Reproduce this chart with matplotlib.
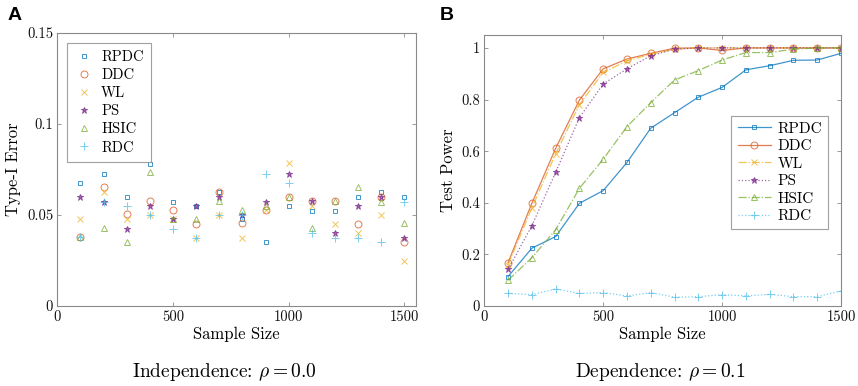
import matplotlib
matplotlib.use("Agg")
import matplotlib.pyplot as plt
from matplotlib.ticker import FuncFormatter

plt.rcParams['font.family'] = ['cmr10', 'DejaVu Serif']
plt.rcParams['mathtext.fontset'] = 'cm'
plt.rcParams['axes.formatter.use_mathtext'] = True

sample_sizes = [100, 200, 300, 400, 500, 600, 700, 800, 900, 1000, 1100, 1200, 1300, 1400, 1500]
methods = ["RPDC", "DDC", "WL", "PS", "HSIC", "RDC"]

# Panel A: Type-I error
rpdc_a = [0.0675, 0.0725, 0.060, 0.078, 0.0573, 0.0551, 0.0626, 0.0476, 0.0352, 0.0551, 0.0524, 0.0524, 0.060, 0.0626, 0.060]
ddc_a = [0.038, 0.0652, 0.0504, 0.0577, 0.0527, 0.045, 0.0626, 0.0454, 0.0527, 0.060, 0.0577, 0.0577, 0.045, 0.060, 0.0352]
wl_a = [0.0476, 0.0626, 0.0476, 0.050, 0.0476, 0.0374, 0.050, 0.0374, 0.0527, 0.0785, 0.0551, 0.045, 0.0403, 0.050, 0.0249]
ps_a = [0.060, 0.0573, 0.0425, 0.055, 0.0476, 0.0551, 0.060, 0.050, 0.0573, 0.0725, 0.0577, 0.0403, 0.0551, 0.060, 0.0374]
hsic_a = [0.038, 0.043, 0.0353, 0.0738, 0.0476, 0.0476, 0.0577, 0.0527, 0.0551, 0.060, 0.0427, 0.0577, 0.0656, 0.0573, 0.0454]
rdc_a = [0.038, 0.0573, 0.0551, 0.050, 0.0425, 0.0374, 0.050, 0.050, 0.0725, 0.0674, 0.040, 0.0374, 0.0374, 0.0352, 0.0573]

# Panel B: Test power
rpdc_b = [0.114, 0.224, 0.269, 0.398, 0.447, 0.556, 0.689, 0.749, 0.809, 0.847, 0.915, 0.931, 0.952, 0.953, 0.979]
ddc_b = [0.168, 0.398, 0.611, 0.798, 0.919, 0.957, 0.979, 0.999, 1.0, 0.99, 1.0, 1.0, 1.0, 1.0, 1.0]
wl_b = [0.160, 0.380, 0.590, 0.780, 0.905, 0.950, 0.975, 0.995, 1.0, 1.0, 1.0, 1.0, 1.0, 1.0, 1.0]
ps_b = [0.142, 0.311, 0.518, 0.730, 0.860, 0.919, 0.970, 0.995, 1.0, 1.0, 1.0, 1.0, 1.0, 1.0, 1.0]
hsic_b = [0.100, 0.187, 0.295, 0.456, 0.569, 0.695, 0.788, 0.876, 0.912, 0.953, 0.982, 0.982, 0.995, 1.0, 1.0]
rdc_b = [0.049, 0.044, 0.066, 0.049, 0.052, 0.039, 0.052, 0.034, 0.036, 0.044, 0.039, 0.045, 0.036, 0.036, 0.058]

colors = ["#0072BD", "#D95319", "#EDB120", "#7E2F8E", "#77AC30", "#4DBEEE"]
markers = ["s", "o", "x", "*", "^", "+"]
msizes = [3.5, 5, 4, 4.5, 5, 5.5]
linestyles = ["-", "-", "-.", ":", "-.", ":"]

data_a = [rpdc_a, ddc_a, wl_a, ps_a, hsic_a, rdc_a]
data_b = [rpdc_b, ddc_b, wl_b, ps_b, hsic_b, rdc_b]

fig = plt.figure(figsize=(8.58, 3.86), dpi=100)
axA = fig.add_axes([57.3/858, 80/386, (416-57.3)/858, (306-33)/386])
axB = fig.add_axes([484.3/858, 80/386, (841-484.3)/858, (306-35)/386])

edge = "#8a8a8a"
fmt = FuncFormatter(lambda v, p: "%g" % v)

def style(ax):
    for s in ax.spines.values():
        s.set_color(edge)
        s.set_linewidth(0.8)
    ax.tick_params(direction="in", length=3, width=0.6, color=edge, labelsize=10.5,
                   top=True, right=True, pad=3, labelcolor="#111111")
    ax.yaxis.set_major_formatter(fmt)
    ax.xaxis.set_major_formatter(fmt)

for i, m in enumerate(methods):
    mk = markers[i]
    filled = mk in ("x", "*", "+")
    axA.plot(sample_sizes, data_a[i], linestyle="none", marker=mk, markersize=msizes[i],
             markerfacecolor=colors[i] if filled else "none", markeredgecolor=colors[i],
             markeredgewidth=0.7, alpha=0.75, label=m)
axA.set_xlim(0, 1550)
axA.set_ylim(0, 0.15)
axA.set_xticks([0, 500, 1000, 1500])
axA.set_yticks([0, 0.05, 0.1, 0.15])
axA.set_xlabel("Sample Size", fontsize=12, labelpad=2)
axA.set_ylabel("Type-I Error", fontsize=12, labelpad=4)
style(axA)
legA = axA.legend(loc="upper left", bbox_to_anchor=(0.008, 0.99), fontsize=10.5, frameon=True,
                  fancybox=False, edgecolor=edge, handlelength=1.2, handletextpad=0.6,
                  borderpad=0.5, labelspacing=0.3)
legA.get_frame().set_linewidth(0.8)

for i, m in enumerate(methods):
    mk = markers[i]
    filled = mk in ("x", "*", "+")
    axB.plot(sample_sizes, data_b[i], linestyle=linestyles[i], color=colors[i], linewidth=0.9,
             marker=mk, markersize=msizes[i],
             markerfacecolor=colors[i] if filled else "none", markeredgecolor=colors[i],
             markeredgewidth=0.7, alpha=0.75, label=m)
axB.set_xlim(0, 1500)
axB.set_ylim(0, 1.05)
axB.set_xticks([0, 500, 1000, 1500])
axB.set_yticks([0, 0.2, 0.4, 0.6, 0.8, 1.0])
axB.set_xlabel("Sample Size", fontsize=12, labelpad=2)
axB.set_ylabel("Test Power", fontsize=12, labelpad=4)
style(axB)
legB = axB.legend(loc="upper right", bbox_to_anchor=(0.985, 0.73), fontsize=11, frameon=True,
                  fancybox=False, edgecolor=edge, handlelength=2.2, handletextpad=0.4,
                  borderpad=0.4, labelspacing=0.25)
legB.get_frame().set_linewidth(0.8)

fig.text(8/858, 1 - 16/386, "A", fontsize=14, fontweight="bold", family="Liberation Sans", va="center")
fig.text(440/858, 1 - 16/386, "B", fontsize=14, fontweight="bold", family="Liberation Sans", va="center")

fig.text(224/858, 1 - 372/386, r"Independence: $\rho = 0.0$", fontsize=14, ha="center", va="center")
fig.text(660/858, 1 - 372/386, r"Dependence: $\rho = 0.1$", fontsize=14, ha="center", va="center")

fig.savefig("out.png", dpi=100)
